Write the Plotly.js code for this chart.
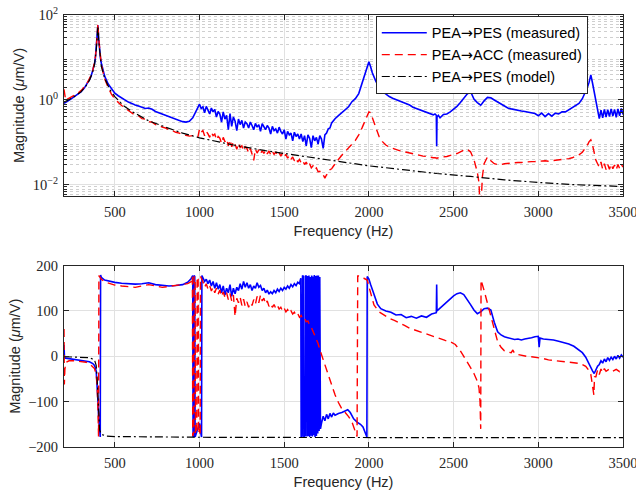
<!DOCTYPE html>
<html><head><meta charset="utf-8">
<script src="https://cdn.plot.ly/plotly-3.0.1.min.js"></script>
<style>body{margin:0;background:#fff;} #chart{width:636px;height:490px;}</style>
</head><body><div id="chart"></div>
<script>
// ---- magnitude data (log10 of µm/V) ----
const freqMag = [
 200,210,220,240,260,280,300,320,340,350,
 360,370,380,385,390,395,400,405,410,415,
 420,430,440,460,480,500,520,540,560,580,
 600,620,640,660,680,700,720,740,760,780,
 800,820,840,860,880,900,920,940,960,980,
 990,1000,1010,1020,1030,1040,1050,1060,1070,1080,
 1090,1100,1110,1120,1130,1140,1150,1160,1170,1180,
 1190,1200,1210,1220,1230,1240,1250,1260,1270,1280,
 1290,1300,1310,1320,1330,1340,1350,1360,1370,1380,
 1390,1400,1410,1420,1430,1440,1450,1460,1470,1480,
 1490,1500,1510,1520,1530,1540,1550,1560,1570,1580,
 1590,1600,1610,1620,1630,1640,1650,1660,1670,1680,
 1690,1700,1710,1720,1730,1740,1750,1760,1770,1780,
 1790,1800,1820,1840,1860,1880,1900,1920,1940,1960,
 1980,1990,2000,2010,2020,2040,2060,2080,2100,2120,
 2140,2160,2180,2200,2220,2240,2260,2280,2300,2320,
 2340,2360,2380,2390,2398,2400,2402,2410,2420,2440,
 2460,2480,2500,2520,2540,2560,2580,2600,2620,2640,
 2650,2655,2660,2665,2670,2680,2700,2720,2740,2760,
 2780,2800,2820,2840,2860,2880,2900,2920,2940,2960,
 2980,3000,3020,3040,3060,3080,3100,3120,3140,3160,
 3180,3200,3220,3240,3260,3280,3290,3300,3310,3320,
 3330,3340,3350,3360,3370,3380,3390,3400,3410,3420,
 3430,3440,3450,3460,3470,3480,3490,3500
];
const pesMagLog = [
 -0.08,-0.06,-0.03,0.02,0.07,0.12,0.19,0.28,0.40,0.48,
 0.56,0.68,0.85,0.98,1.18,1.45,1.76,1.42,1.16,0.99,
 0.87,0.70,0.56,0.38,0.26,0.16,0.10,0.05,0.00,-0.05,
 -0.08,-0.12,-0.14,-0.17,-0.20,-0.19,-0.22,-0.27,-0.30,-0.34,
 -0.37,-0.40,-0.43,-0.46,-0.49,-0.51,-0.52,-0.50,-0.42,-0.28,
 -0.18,-0.10,-0.20,-0.16,-0.30,-0.15,-0.24,-0.33,-0.19,-0.28,
 -0.22,-0.40,-0.27,-0.33,-0.52,-0.28,-0.45,-0.36,-0.70,-0.32,
 -0.62,-0.40,-0.50,-0.72,-0.45,-0.58,-0.48,-0.66,-0.52,-0.56,
 -0.66,-0.52,-0.60,-0.70,-0.55,-0.64,-0.58,-0.74,-0.56,-0.62,
 -0.70,-0.60,-0.66,-0.80,-0.62,-0.72,-0.68,-0.78,-0.64,-0.74,
 -0.80,-0.70,-0.92,-0.74,-0.82,-0.78,-0.96,-0.76,-0.86,-0.80,
 -0.92,-0.80,-0.98,-0.84,-1.08,-0.82,-0.90,-1.12,-0.84,-0.96,
 -0.88,-1.04,-0.84,-0.92,-1.14,-0.82,-0.78,-0.68,-0.66,-0.54,
 -0.48,-0.44,-0.37,-0.30,-0.24,-0.16,-0.04,0.03,0.15,0.40,
 0.62,0.78,0.90,0.78,0.64,0.45,0.30,0.20,0.13,0.08,
 0.04,0.01,-0.02,-0.06,-0.09,-0.12,-0.17,-0.20,-0.24,-0.27,
 -0.30,-0.32,-0.35,-0.33,-0.36,-1.09,-0.40,-0.36,-0.42,-0.34,
 -0.33,-0.28,-0.22,-0.15,-0.06,0.05,0.14,0.20,0.02,-0.06,
 -0.10,-0.12,-0.12,-0.10,-0.07,-0.02,0.06,0.05,0.00,-0.05,
 -0.10,-0.15,-0.19,-0.21,-0.23,-0.24,-0.26,-0.27,-0.29,-0.31,
 -0.32,-0.37,-0.31,-0.39,-0.32,-0.38,-0.31,-0.33,-0.28,-0.28,
 -0.23,-0.19,-0.14,-0.08,0.03,0.20,0.30,0.42,0.59,0.40,
 0.20,0.02,-0.20,-0.44,-0.24,-0.42,-0.22,-0.40,-0.23,-0.39,
 -0.21,-0.38,-0.22,-0.41,-0.21,-0.37,-0.20,-0.34
];
const accMagLog = [
 0.25,-0.01,0.02,0.06,0.10,0.15,0.22,0.30,0.42,0.50,
 0.58,0.70,0.87,1.00,1.20,1.48,1.80,1.45,1.18,1.00,
 0.85,0.66,0.50,0.30,0.14,0.02,-0.06,-0.13,-0.19,-0.25,
 -0.29,-0.36,-0.37,-0.44,-0.45,-0.51,-0.52,-0.58,-0.59,-0.64,
 -0.66,-0.70,-0.72,-0.76,-0.78,-0.82,-0.83,-0.85,-0.84,-0.88,
 -0.88,-0.68,-0.76,-0.72,-0.84,-0.74,-0.80,-0.88,-0.76,-0.84,
 -0.80,-0.94,-0.86,-0.90,-1.02,-0.88,-0.98,-0.92,-1.08,-0.94,
 -1.10,-0.98,-1.04,-1.16,-1.02,-1.12,-1.08,-1.20,-1.10,-1.14,
 -1.25,-1.14,-1.27,-1.42,-1.16,-1.25,-1.17,-1.27,-1.19,-1.26,
 -1.18,-1.27,-1.20,-1.29,-1.21,-1.28,-1.22,-1.31,-1.24,-1.32,
 -1.25,-1.34,-1.28,-1.37,-1.31,-1.40,-1.34,-1.43,-1.37,-1.46,
 -1.40,-1.48,-1.43,-1.52,-1.46,-1.56,-1.50,-1.60,-1.55,-1.64,
 -1.60,-1.69,-1.68,-1.76,-1.76,-1.84,-1.76,-1.74,-1.64,-1.62,
 -1.56,-1.50,-1.40,-1.30,-1.22,-1.13,-1.04,-0.95,-0.82,-0.65,
 -0.48,-0.38,-0.28,-0.30,-0.42,-0.66,-0.86,-0.98,-1.06,-1.11,
 -1.14,-1.16,-1.19,-1.21,-1.23,-1.25,-1.27,-1.29,-1.30,-1.32,
 -1.33,-1.35,-1.36,-1.36,-1.37,-1.37,-1.37,-1.36,-1.35,-1.34,
 -1.33,-1.31,-1.29,-1.26,-1.22,-1.18,-1.16,-1.22,-1.40,-1.70,
 -1.95,-2.60,-3.00,-2.20,-1.80,-1.50,-1.34,-1.43,-1.50,-1.52,
 -1.52,-1.50,-1.49,-1.48,-1.48,-1.47,-1.47,-1.46,-1.46,-1.45,
 -1.45,-1.44,-1.44,-1.43,-1.44,-1.43,-1.42,-1.42,-1.41,-1.40,
 -1.38,-1.36,-1.33,-1.29,-1.23,-1.13,-1.06,-0.98,-0.94,-1.06,
 -1.25,-1.42,-1.50,-1.58,-1.46,-1.63,-1.50,-1.64,-1.52,-1.63,
 -1.51,-1.62,-1.53,-1.64,-1.52,-1.61,-1.51,-1.58
];
const modelFreq = [200,250,300,330,350,370,380,390,395,400,405,410,420,440,470,500,550,600,700,800,900,1000,1200,1400,1600,1800,2000,2200,2400,2600,2800,3000,3200,3400,3500];
const modelMagLog = [-0.05,0.05,0.19,0.33,0.46,0.67,0.84,1.14,1.43,1.74,1.40,1.12,0.80,0.51,0.25,0.08,-0.13,-0.27,-0.49,-0.64,-0.78,-0.89,-1.06,-1.20,-1.32,-1.44,-1.55,-1.64,-1.73,-1.80,-1.88,-1.94,-1.99,-2.02,-2.04];

// ---- phase data (deg) ----
const pesPhaseFreq = [
 200,203,210,230,260,300,330,350,370,380,
 390,395,400,405,410,414,416,420,440,470,
 500,540,580,620,660,700,740,780,820,860,
 900,930,950,960,962,966,968,972,974,990,
 1000,1008,1012,1014,1020,1030,1040,1050,1060,1070,
 1080,1090,1100,1110,1120,1130,1140,1150,1160,1170,
 1180,1190,1200,1210,1220,1230,1240,1250,1260,1270,
 1280,1290,1300,1310,1320,1330,1340,1350,1360,1370,
 1380,1390,1400,1410,1420,1430,1440,1450,1460,1470,
 1480,1490,1500,1510,1520,1530,1540,1550,1560,1570,
 1580,1590,1598,1600,1606,1608,1614,1616,1624,1626,
 1632,1634,1638,1642,1646,1650,1654,1658,1662,1666,
 1670,1674,1678,1682,1686,1690,1694,1698,1702,1706,
 1710,1714,1720,1730,1740,1750,1760,1770,1780,1790,
 1800,1820,1840,1860,1875,1890,1910,1930,1950,1965,
 1980,1988,1990,2000,2010,2020,2030,2050,2070,2100,
 2130,2160,2190,2220,2250,2280,2310,2340,2370,2390,
 2398,2400,2402,2420,2440,2460,2480,2500,2520,2540,
 2560,2580,2600,2620,2640,2660,2680,2700,2720,2740,
 2760,2780,2800,2820,2840,2860,2880,2900,2920,2940,
 2960,2980,3000,3005,3010,3030,3060,3090,3120,3150,
 3180,3210,3240,3260,3280,3300,3320,3330,3340,3350,
 3360,3370,3380,3390,3400,3410,3420,3430,3440,3450,
 3460,3470,3480,3490,3500
];
const pesPhase = [
 25,-5,-4,-5,-6,-8,-10,-12,-16,-20,
 -32,-55,-95,-140,-168,-178,179,174,168,165,
 163,161,160,159,160,162,158,156,155,156,
 158,163,171,178,-178,-176,178,176,-178,-160,
 -148,-170,-178,178,172,165,170,160,168,155,
 165,150,162,148,158,140,155,135,150,140,
 158,132,150,138,152,145,160,148,165,152,
 162,150,158,145,155,150,162,152,156,145,
 150,140,146,137,142,138,145,140,148,143,
 150,145,152,148,155,150,158,153,160,156,
 163,160,172,-178,-176,178,176,-178,-175,178,
 176,-177,177,-176,178,-178,175,-175,178,-177,
 176,-174,179,-178,177,-176,178,-170,178,-165,
 175,-160,-148,-132,-142,-128,-138,-126,-134,-125,
 -130,-126,-124,-120,-118,-124,-138,-145,-150,-156,
 -168,-178,176,170,158,146,134,115,105,100,
 97,91,92,85,88,84,89,86,93,95,
 96,158,100,106,113,120,127,133,138,140,
 136,126,114,102,94,98,105,106,102,75,
 54,47,43,41,39,37,38,36,38,39,
 41,43,44,20,40,38,37,36,33,30,
 27,22,14,8,-2,-18,-32,-38,-30,-22,
 -18,-10,-15,-6,-12,-3,-9,-2,-7,0,
 -6,2,-4,3,-2
];
const accPhaseFreq = [
 200,202,205,210,230,260,300,330,350,370,
 380,390,395,400,404,406,410,420,440,470,
 500,540,580,620,660,700,740,780,820,860,
 900,930,950,958,960,966,968,974,976,984,
 986,992,994,1000,1004,1006,1020,1030,1040,1050,
 1060,1070,1080,1090,1100,1110,1120,1130,1140,1150,
 1160,1170,1180,1190,1200,1210,1220,1230,1240,1250,
 1260,1270,1280,1290,1300,1310,1320,1330,1340,1350,
 1360,1370,1380,1390,1400,1410,1420,1430,1440,1450,
 1460,1470,1480,1490,1500,1510,1520,1530,1540,1550,
 1560,1570,1580,1590,1600,1610,1620,1630,1640,1650,
 1660,1670,1680,1690,1700,1710,1720,1730,1740,1750,
 1760,1770,1780,1790,1800,1820,1840,1860,1880,1900,
 1915,1930,1934,1950,1970,1990,2010,2030,2060,2090,
 2120,2150,2180,2210,2240,2270,2300,2330,2360,2390,
 2420,2450,2480,2510,2540,2570,2600,2620,2640,2650,
 2656,2660,2662,2680,2700,2720,2740,2760,2780,2800,
 2820,2840,2850,2860,2880,2900,2930,2960,3000,3030,
 3060,3100,3150,3200,3250,3280,3300,3310,3328,3332,
 3340,3350,3360,3370,3380,3390,3400,3420,3440,3460,
 3480,3500
];
const accPhase = [
 60,-62,-30,-14,-10,-10,-11,-13,-16,-22,
 -27,-40,-60,-110,-178,178,176,170,164,160,
 157,155,153,152,155,158,155,152,154,156,
 157,160,164,176,-176,-168,176,172,-172,-165,
 175,170,-170,-160,-175,176,165,152,160,148,
 156,144,152,140,150,137,146,132,142,130,
 140,125,138,122,135,88,128,118,130,112,
 126,110,120,108,118,112,125,115,132,118,
 135,122,128,115,122,110,116,108,114,106,
 112,104,108,100,106,98,103,95,100,93,
 97,90,94,86,90,82,84,76,78,68,
 64,55,48,38,28,15,4,-8,-22,-30,
 -44,-55,-66,-76,-85,-102,-116,-124,-133,-145,
 -160,-177,178,174,172,168,140,113,98,90,
 84,79,74,68,62,58,54,50,46,42,
 38,35,32,26,12,-5,-25,-38,-55,-70,
 -100,-160,168,145,118,88,60,32,20,12,
 9,8,14,6,4,2,0,-1,-3,-5,
 -8,-10,-12,-14,-16,-22,-32,-40,-85,-45,
 -45,-30,-40,-28,-36,-27,-33,-28,-33,-29,
 -34,-32
];
const modelPhaseFreq = [200,300,350,380,390,395,400,405,410,420,450,500,700,1000,1500,2000,2500,3000,3500];
const modelPhase = [-1,-2,-3,-8,-20,-45,-95,-140,-162,-172,-176,-177,-178,-178.5,-179,-179,-179.5,-179.5,-179.5];

const arrow = '<span style="font-family:\'DejaVu Sans\'">\u2192</span>';
const seriesNames = ['PEA' + arrow + 'PES (measured)', 'PEA' + arrow + 'ACC (measured)', 'PEA' + arrow + 'PES (model)'];
const freqTicks = [500,1000,1500,2000,2500,3000,3500];
const magTickVals = [0.01, 1, 100];
const magTickText = ['10<sup>\u22122</sup>', '10<sup>0</sup>', '10<sup>2</sup>'];
const phaseTicks = [-200,-100,0,100,200];

const toLin = a => a.map(v => Math.pow(10, v));
const minorVals = [];
for (let k = -3; k <= 1; k++) for (let m = 2; m <= 9; m++) minorVals.push(m * Math.pow(10, k));

const blue = '#0000ff', red = '#ff0000', black = '#000000';
const styles = [
  {color: blue, width: 1.6, dash: 'solid'},
  {color: red, width: 1.4, dash: '8px,5px'},
  {color: black, width: 1.2, dash: '8px,3px,2px,3px'}
];

const traces = [
  {x: freqMag, y: toLin(pesMagLog), name: seriesNames[0], line: styles[0], xaxis: 'x', yaxis: 'y'},
  {x: freqMag, y: toLin(accMagLog), name: seriesNames[1], line: styles[1], xaxis: 'x', yaxis: 'y'},
  {x: modelFreq, y: toLin(modelMagLog), name: seriesNames[2], line: styles[2], xaxis: 'x', yaxis: 'y'},
  {x: pesPhaseFreq, y: pesPhase, name: seriesNames[0], line: styles[0], xaxis: 'x2', yaxis: 'y2', showlegend: false},
  {x: accPhaseFreq, y: accPhase, name: seriesNames[1], line: styles[1], xaxis: 'x2', yaxis: 'y2', showlegend: false},
  {x: modelPhaseFreq, y: modelPhase, name: seriesNames[2], line: styles[2], xaxis: 'x2', yaxis: 'y2', showlegend: false}
].map(t => Object.assign({type: 'scatter', mode: 'lines', hoverinfo: 'skip'}, t));

const axisColor = '#262626';
const gridColor = '#e1e1e1';
const tickFont = {family: 'Liberation Serif', size: 14.5, color: axisColor};
const titleFont = {family: 'Liberation Sans', size: 14.5, color: axisColor};
const base = {
  showline: true, linecolor: axisColor, linewidth: 1, mirror: 'ticks',
  ticks: 'inside', ticklen: 5, tickcolor: axisColor, tickwidth: 1,
  showgrid: true, gridcolor: gridColor, gridwidth: 1, zeroline: false,
  tickfont: tickFont, automargin: false, ticklabeloverflow: 'allow'
};
const xTitle = {text: 'Frequency (Hz)', font: titleFont, standoff: 6};
const yTitle = {text: 'Magnitude (<i>\u03bc</i>m/V)', font: titleFont, standoff: 4};

const layout = {
  width: 636, height: 490,
  margin: {l: 64, r: 13, t: 15, b: 43},
  paper_bgcolor: '#ffffff', plot_bgcolor: '#ffffff',
  showlegend: true,
  xaxis: Object.assign({}, base, {anchor: 'y', domain: [0, 1], range: [200, 3500], tickmode: 'array', tickvals: freqTicks, ticklabelstandoff: 3, title: xTitle}),
  yaxis: Object.assign({}, base, {anchor: 'x', domain: [0.581, 1], type: 'log', range: [-2.26, 2], tickmode: 'array', tickvals: magTickVals, ticktext: magTickText, ticklabelstandoff: 2, title: yTitle,
    minor: {tickmode: 'array', tickvals: minorVals, ticks: 'inside', ticklen: 3, tickcolor: axisColor, showgrid: true, gridcolor: '#cfcfcf', griddash: 'dot', gridwidth: 1}}),
  xaxis2: Object.assign({}, base, {anchor: 'y2', domain: [0, 1], range: [200, 3500], tickmode: 'array', tickvals: freqTicks, ticklabelstandoff: 3, title: xTitle}),
  yaxis2: Object.assign({}, base, {anchor: 'x2', domain: [0, 0.42], range: [-200, 200], tickmode: 'array', tickvals: phaseTicks, ticklabelstandoff: 2, title: yTitle}),
  legend: {x: 0.937, xanchor: 'right', y: 0.998, yanchor: 'top', bgcolor: '#ffffff', bordercolor: axisColor, borderwidth: 1,
    font: {family: 'Liberation Sans', size: 14.5, color: '#000000'}, itemwidth: 45, tracegroupgap: 0}
};

Plotly.newPlot('chart', traces, layout, {displayModeBar: false, staticPlot: true});
</script>
</body></html>
